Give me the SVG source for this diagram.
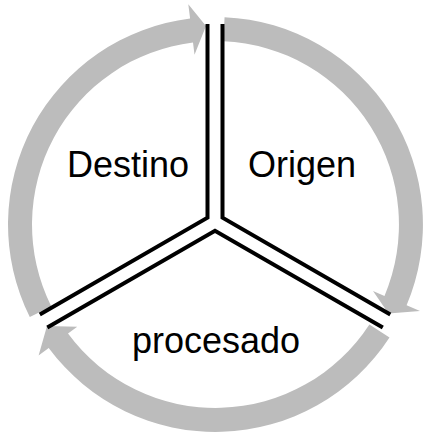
<svg xmlns="http://www.w3.org/2000/svg" width="423" height="433" viewBox="0 0 423 433">
  <style>
    .arc { fill: #bcbcbc; stroke: none; }
    .div { fill: none; stroke: #000; stroke-width: 4; stroke-linejoin: miter; stroke-linecap: butt; }
    .lbl { font-family: "Liberation Sans", Arial, sans-serif; font-size: 36px; fill: #000; text-anchor: middle; }
  </style>
  <rect width="423" height="433" fill="#fff"/>

  <!-- curved cycle arrows (clockwise) -->
  <g id="arrows">
    <path id="arrow-destino" class="arc" d="M29.8,317.1 A207.5,207.5 0 0 1 190.1,18.6 L188.3,4.2 L206,26 L194.5,54.8 L193,42.4 A183.5,183.5 0 0 0 51.3,306.4 Z"/>
    <path id="arrow-origen" class="arc" d="M224.55,17.2 A207.5,207.5 0 0 1 406.6,305.2 L420,310.9 L388.5,313.5 L373,291 L384.5,295.9 A183.5,183.5 0 0 0 223.5,41.2 Z"/>
    <path id="arrow-procesado" class="arc" d="M389.5,337.5 A207.5,207.5 0 0 1 48.7,347.9 L38.6,355.4 L47,326 L77.2,326.8 L68,333.6 A183.5,183.5 0 0 0 369.4,324.4 Z"/>
  </g>

  <!-- double divider lines between sectors -->
  <g id="connectors">
    <polyline class="div" points="207.5,24 207.5,217.7 39.8,314.5"/>
    <polyline class="div" points="222.5,24 222.5,217.7 390.3,314.5"/>
    <polyline class="div" points="47.3,327.5 215,230.7 382.8,327.5"/>
  </g>

  <g id="node-destino">
    <text class="lbl" x="128" y="177">Destino</text>
  </g>
  <g id="node-origen">
    <text class="lbl" x="302" y="177">Origen</text>
  </g>
  <g id="node-procesado">
    <text class="lbl" x="216" y="353">procesado</text>
  </g>
</svg>
